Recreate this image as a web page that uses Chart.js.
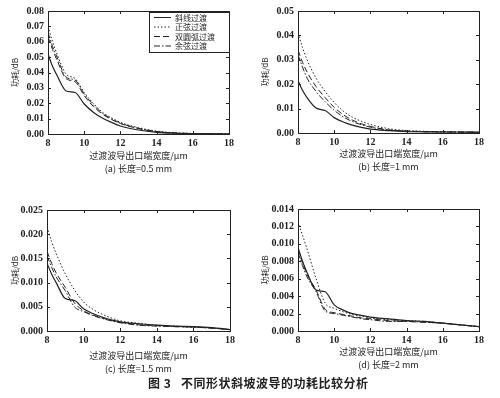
<!DOCTYPE html>
<html>
<head>
<meta charset="utf-8">
<script src="https://cdn.jsdelivr.net/npm/chart.js@4/dist/chart.umd.min.js"></script>
<style>
body { margin: 0; background: #fff; }
#wrap { position: relative; width: 500px; height: 398px; overflow: hidden; }
.panel { position: absolute; }
#caption { position: absolute; left: 148px; top: 374px; font: bold 12px "Noto Sans CJK SC"; color: #222; letter-spacing: 0.5px; white-space: pre; }
</style>
</head>
<body>
<div id="wrap">
	<div class="panel" style="left:0;top:0"><canvas id="chartA" width="250" height="195"></canvas></div>
	<div class="panel" style="left:250px;top:0"><canvas id="chartB" width="250" height="195"></canvas></div>
	<div class="panel" style="left:0;top:195px"><canvas id="chartC" width="250" height="190"></canvas></div>
	<div class="panel" style="left:250px;top:195px"><canvas id="chartD" width="250" height="190"></canvas></div>
	<div id="caption">图 3   不同形状斜坡波导的功耗比较分析</div>
</div>
<script>
// x: 过渡波导出口端宽度 (μm)
var widths = [8, 8.25, 8.5, 9, 9.5, 10, 10.5, 11, 11.5, 12, 13, 14, 15, 16, 17, 18];
var seriesNames = ['斜线过渡', '正弦过渡', '双圆弧过渡', '余弦过渡'];
var xTicks = [8, 10, 12, 14, 16, 18];

// (a) 长度 = 0.5 mm
var lossA_line = [0.052, 0.044, 0.038, 0.028, 0.027, 0.0195, 0.0142, 0.0104, 0.0076, 0.0052, 0.0026, 0.0011, 0.0005, 0.0002, 0.0001, 0.0000];
var lossA_sine = [0.070, 0.060, 0.052, 0.039, 0.036, 0.027, 0.020, 0.0142, 0.0106, 0.0076, 0.0041, 0.0019, 0.0008, 0.0004, 0.0002, 0.0001];
var lossA_arc = [0.063, 0.055, 0.048, 0.036, 0.034, 0.025, 0.018, 0.0130, 0.0095, 0.0068, 0.0035, 0.0015, 0.0006, 0.0003, 0.0001, 0.0000];
var lossA_cos = [0.066, 0.057, 0.050, 0.037, 0.035, 0.026, 0.019, 0.0135, 0.0100, 0.0071, 0.0037, 0.0016, 0.0007, 0.0003, 0.0001, 0.0000];

// (b) 长度 = 1 mm
var lossB_line = [0.0215, 0.0175, 0.0145, 0.0102, 0.0092, 0.0063, 0.0045, 0.0032, 0.0023, 0.0016, 0.0010, 0.0006, 0.0005, 0.0004, 0.0004, 0.0003];
var lossB_sine = [0.041, 0.035, 0.030, 0.0225, 0.0170, 0.0125, 0.0090, 0.0065, 0.0048, 0.0035, 0.0018, 0.0010, 0.0007, 0.0005, 0.0004, 0.0003];
var lossB_arc = [0.034, 0.029, 0.025, 0.019, 0.0145, 0.0105, 0.0075, 0.0053, 0.0038, 0.0027, 0.0013, 0.0008, 0.0006, 0.0005, 0.0004, 0.0003];
var lossB_cos = [0.032, 0.027, 0.0225, 0.017, 0.0128, 0.0093, 0.0066, 0.0047, 0.0034, 0.0024, 0.0012, 0.0007, 0.0005, 0.0004, 0.0003, 0.0003];

// (c) 长度 = 1.5 mm
var lossC_line = [0.0140, 0.0118, 0.0100, 0.0067, 0.0063, 0.0046, 0.0036, 0.0029, 0.0023, 0.0019, 0.0015, 0.0012, 0.0010, 0.0009, 0.0007, 0.0003];
var lossC_sine = [0.0215, 0.0185, 0.0160, 0.0118, 0.0085, 0.0060, 0.0045, 0.0035, 0.0027, 0.0021, 0.0016, 0.0012, 0.0010, 0.0008, 0.0006, 0.0003];
var lossC_arc = [0.0165, 0.0140, 0.0120, 0.0090, 0.0058, 0.0042, 0.0033, 0.0027, 0.0022, 0.0018, 0.0013, 0.0011, 0.0009, 0.0008, 0.0006, 0.0003];
var lossC_cos = [0.0155, 0.0132, 0.0112, 0.0083, 0.0050, 0.0040, 0.0032, 0.0026, 0.0021, 0.0017, 0.0012, 0.0010, 0.0009, 0.0008, 0.0006, 0.0003];

// (d) 长度 = 2 mm
var lossD_line = [0.0096, 0.0080, 0.0067, 0.0047, 0.0045, 0.0030, 0.0024, 0.0020, 0.0018, 0.0016, 0.0014, 0.0012, 0.0011, 0.0009, 0.0007, 0.0005];
var lossD_sine = [0.0125, 0.0110, 0.0094, 0.0060, 0.0032, 0.0026, 0.0022, 0.0019, 0.0017, 0.0015, 0.0013, 0.0012, 0.0011, 0.0009, 0.0007, 0.0005];
var lossD_arc = [0.0094, 0.0078, 0.0065, 0.0047, 0.0025, 0.0021, 0.0019, 0.0017, 0.0015, 0.0014, 0.0012, 0.0011, 0.0010, 0.0009, 0.0007, 0.0005];
var lossD_cos = [0.0090, 0.0075, 0.0062, 0.0045, 0.0023, 0.0020, 0.0018, 0.0016, 0.0014, 0.0013, 0.0011, 0.0011, 0.0010, 0.0009, 0.0007, 0.0005];

// y axis tick ranges per panel: max, step, decimals
var yMaxes = [0.08, 0.05, 0.025, 0.014];
var ySteps = [0.01, 0.01, 0.005, 0.002];
var yDecimals = [2, 2, 3, 3];
var subTitles = ['(a) 长度=0.5 mm', '(b) 长度=1 mm', '(c) 长度=1.5 mm', '(d) 长度=2 mm'];

var ink = '#222';
var dashes = [[], [1.5, 2], [6, 3], [6, 2, 1.5, 2]];

// draw box around plot area with inward ticks
var framePlugin = {
	id: 'frame',
	afterDatasetsDraw: function (chart) {
		var a = chart.chartArea, ctx = chart.ctx;
		var xs = chart.scales.x, ys = chart.scales.y;
		ctx.save();
		ctx.strokeStyle = ink;
		ctx.lineWidth = 1;
		ctx.setLineDash([]);
		ctx.strokeRect(a.left + 0.5, a.top + 0.5, a.right - a.left, a.bottom - a.top);
		ctx.beginPath();
		xs.ticks.forEach(function (t) {
			var px = Math.round(xs.getPixelForValue(t.value)) + 0.5;
			ctx.moveTo(px, a.bottom); ctx.lineTo(px, a.bottom - 3);
			ctx.moveTo(px, a.top); ctx.lineTo(px, a.top + 3);
		});
		ys.ticks.forEach(function (t) {
			var py = Math.round(ys.getPixelForValue(t.value)) + 0.5;
			ctx.moveTo(a.left, py); ctx.lineTo(a.left + 3, py);
			ctx.moveTo(a.right, py); ctx.lineTo(a.right - 3, py);
		});
		ctx.stroke();
		ctx.restore();
	}
};

// boxed legend inside the top right corner (panel a only)
var boxLegendPlugin = {
	id: 'boxLegend',
	afterDraw: function (chart, args, opts) {
		if (!opts.show) return;
		var a = chart.chartArea, ctx = chart.ctx;
		var left = a.right - 80, top = a.top + 1;
		ctx.save();
		ctx.fillStyle = '#fff';
		ctx.fillRect(left, top, 80, 40);
		ctx.strokeStyle = ink;
		ctx.lineWidth = 1;
		ctx.strokeRect(left + 0.5, top + 0.5, 80, 40);
		ctx.font = '8px "Noto Sans CJK SC"';
		ctx.textBaseline = 'middle';
		chart.data.datasets.forEach(function (ds, i) {
			var y = top + 5.5 + i * 9.5;
			ctx.beginPath();
			ctx.setLineDash(ds.borderDash);
			ctx.moveTo(left + 5, y);
			ctx.lineTo(left + 22, y);
			ctx.stroke();
			ctx.setLineDash([]);
			ctx.fillStyle = ink;
			ctx.fillText(ds.label, left + 26, y);
		});
		ctx.restore();
	}
};

function makePanel(canvasId, idx, series, pad, yWidth, xHeight) {
	var datasets = series.map(function (vals, i) {
		return {
			label: seriesNames[i],
			data: widths.map(function (w, j) { return { x: w, y: vals[j] }; }),
			borderColor: ink,
			borderWidth: i === 0 ? 1.2 : 1,
			borderDash: dashes[i],
			pointRadius: 0,
			fill: false,
			cubicInterpolationMode: 'monotone'
		};
	});
	return new Chart(document.getElementById(canvasId), {
		type: 'line',
		data: { datasets: datasets },
		options: {
			responsive: false,
			animation: false,
			layout: { padding: pad },
			plugins: {
				legend: { display: false },
				tooltip: { enabled: false },
				boxLegend: { show: idx === 0 }
			},
			scales: {
				x: {
					type: 'linear',
					min: 8,
					max: 18,
					afterBuildTicks: function (s) { s.ticks = xTicks.map(function (v) { return { value: v }; }); },
					afterFit: function (s) { s.height = xHeight; },
					grid: { display: false, drawTicks: false },
					border: { display: false },
					ticks: { color: ink, padding: 3, font: { family: 'Liberation Serif', size: 10, weight: 'bold' } },
					title: {
						display: true,
						text: ['过渡波导出口端宽度/μm', subTitles[idx]],
						color: ink,
						padding: { top: 0, bottom: 0 },
						font: { family: 'Noto Sans CJK SC', size: 9, lineHeight: 1.45 }
					}
				},
				y: {
					min: 0,
					max: yMaxes[idx],
					afterFit: function (s) { s.width = yWidth; },
					grid: { display: false, drawTicks: false },
					border: { display: false },
					ticks: {
						stepSize: ySteps[idx],
						color: ink,
						padding: 4,
						font: { family: 'Liberation Serif', size: 10, weight: 'bold' },
						callback: function (v) { return Number(v).toFixed(yDecimals[idx]); }
					},
					title: {
						display: true,
						text: '功耗/dB',
						color: ink,
						padding: { top: 10, bottom: 0 },
						font: { family: 'Noto Sans CJK SC', size: 8 }
					}
				}
			}
		},
		plugins: [framePlugin, boxLegendPlugin]
	});
}

makePanel('chartA', 0, [lossA_line, lossA_sine, lossA_arc, lossA_cos], { left: 0, right: 21, top: 11, bottom: 20 }, 48, 41);
makePanel('chartB', 1, [lossB_line, lossB_sine, lossB_arc, lossB_cos], { left: 0, right: 21, top: 11, bottom: 22 }, 48, 40);
makePanel('chartC', 2, [lossC_line, lossC_sine, lossC_arc, lossC_cos], { left: 0, right: 20, top: 15, bottom: 10 }, 47, 44);
makePanel('chartD', 3, [lossD_line, lossD_sine, lossD_arc, lossD_cos], { left: 0, right: 21, top: 14, bottom: 14 }, 48, 40);
</script>
</body>
</html>
